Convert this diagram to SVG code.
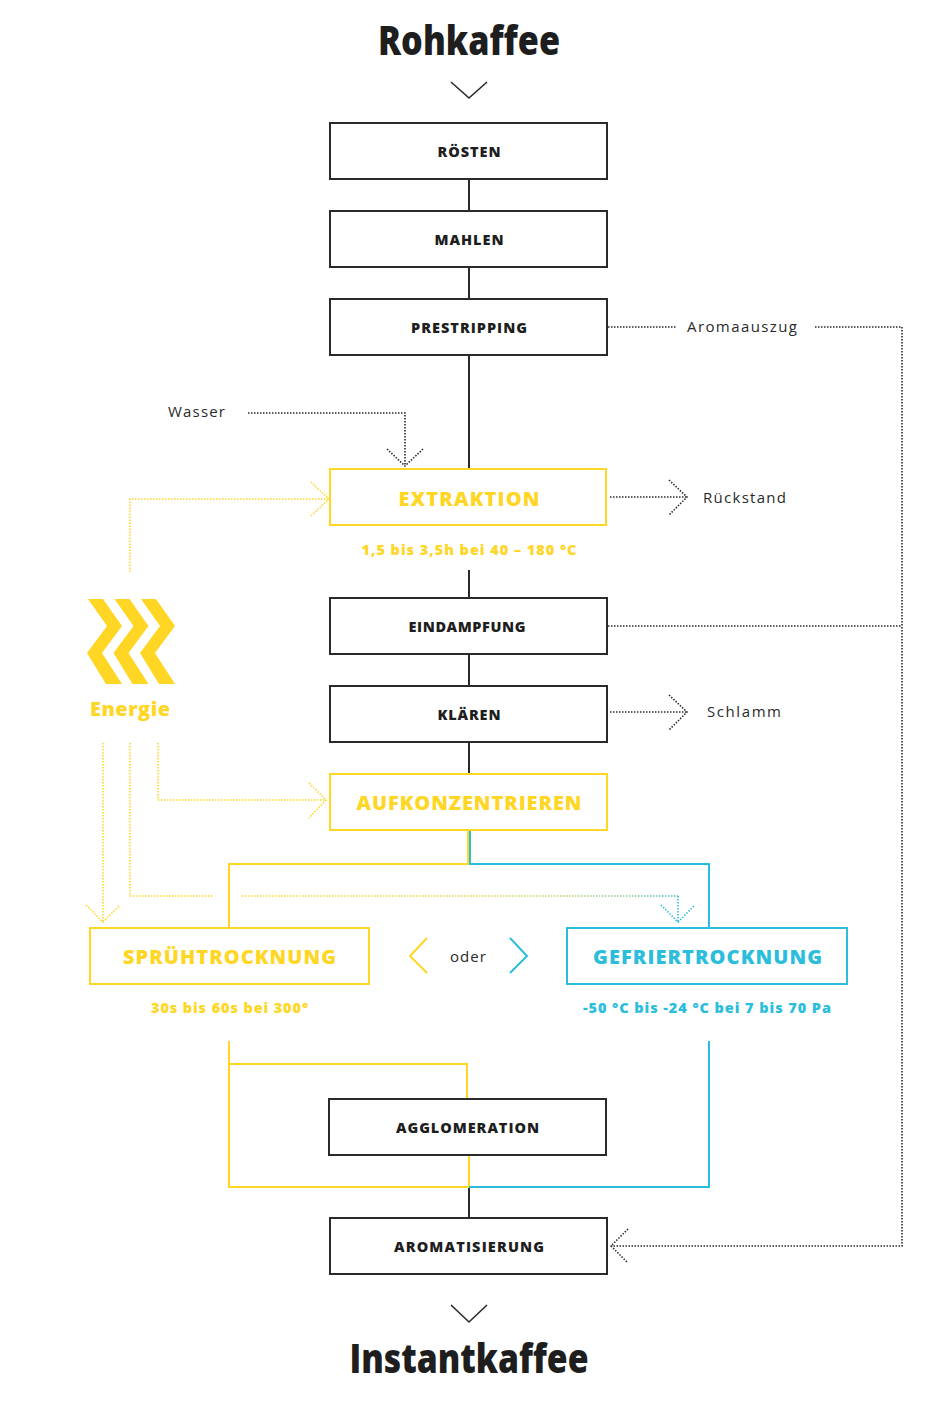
<svg xmlns="http://www.w3.org/2000/svg" width="940" height="1410" viewBox="0 0 940 1410">
<defs>
<style>
.bg{fill:#fff}
.box{fill:#fff;stroke:#2a2a2a;stroke-width:2}
.boxy{fill:#fff;stroke:#FFD624;stroke-width:2}
.boxb{fill:#fff;stroke:#2BBEDC;stroke-width:2}
.lbl{font-family:"Open Sans","Noto Sans",sans-serif;font-weight:800;font-size:14.5px;fill:#1e1e1e;text-anchor:middle}
.lbly{font-family:"Open Sans","Noto Sans",sans-serif;font-weight:800;font-size:20px;fill:#FFD624;text-anchor:middle}
.lblb{font-family:"Open Sans","Noto Sans",sans-serif;font-weight:800;font-size:20px;fill:#2BBEDC;text-anchor:middle}
.suby{font-family:"Open Sans","Noto Sans",sans-serif;font-weight:800;font-size:14.5px;fill:#FFD624;text-anchor:middle}
.subb{font-family:"Open Sans","Noto Sans",sans-serif;font-weight:800;font-size:14.5px;fill:#2BBEDC;text-anchor:middle}
.side{font-family:"Open Sans","Noto Sans",sans-serif;font-weight:400;font-size:15px;fill:#2a2a2a}
.title{font-family:"Open Sans","Noto Sans",sans-serif;font-weight:800;font-size:40px;fill:#1e1e1e;text-anchor:middle}
.solid{fill:none;stroke:#2a2a2a;stroke-width:2}
.soly{fill:none;stroke:#FFD624;stroke-width:2}
.solb{fill:none;stroke:#2BBEDC;stroke-width:2}
.dot{fill:none;stroke:#2a2a2a;stroke-width:1.6;stroke-dasharray:1.5 1.5}
.doty{fill:none;stroke:#FFD624;stroke-width:1.6;stroke-dasharray:1.5 1.5}
.dotb{fill:none;stroke:#2BBEDC;stroke-width:1.6;stroke-dasharray:1.5 1.5}
.chev{fill:none;stroke:#2a2a2a;stroke-width:1.6}
</style>
<linearGradient id="gy2b" gradientUnits="userSpaceOnUse" x1="242" y1="0" x2="690" y2="0">
<stop offset="0" stop-color="#FFD624"/>
<stop offset="0.6" stop-color="#D8D84A"/>
<stop offset="0.85" stop-color="#8CCB8A"/>
<stop offset="1" stop-color="#2BBEDC"/>
</linearGradient>
</defs>
<rect class="bg" x="0" y="0" width="940" height="1410"/>

<g id="connectors">
<path class="solid" d="M469 179V211M469 267V299M469 355V469M469 570V598M469 654V686M469 742V774M469 1187V1218"/>
<path class="soly" d="M468 830V864H229V928"/>
<path class="solb" d="M470 830V864H709V928"/>
<path class="soly" d="M229 1041V1187H469V1155M229 1064H467V1099"/>
<path class="solb" d="M709 1041V1187H469"/>
<path class="chev" d="M451 82L469 98L487 82"/>
<path class="chev" d="M451 1305L469 1322L487 1305"/>
<path class="dot" d="M608 327H676"/>
<path class="dot" d="M815 327H902V1246H611"/>
<path class="dot" d="M628 1229L611 1246L628 1263"/>
<path class="dot" d="M608 626H902"/>
<path class="dot" d="M610 497H687"/>
<path class="dot" d="M669 480L687 497L669 515"/>
<path class="dot" d="M610 712H687"/>
<path class="dot" d="M669 695L687 712L669 730"/>
<path class="dot" d="M248 413H405V466"/>
<path class="dot" d="M387 449L405 466L423 449"/>
<path class="doty" d="M130 572V499H329"/>
<path class="doty" d="M311 482L329 499L311 516"/>
<path class="doty" d="M158 743V800H326"/>
<path class="doty" d="M309 783L326 800L309 818"/>
<path class="doty" d="M103 743V922"/>
<path class="doty" d="M86 905L103 922L120 905"/>
<path class="doty" d="M130 743V896H214"/>
<path style="fill:none;stroke:url(#gy2b);stroke-width:1.6;stroke-dasharray:1.5 1.5" d="M242 896H678"/>
<path class="dotb" d="M678 896V922"/>
<path class="dotb" d="M661 905L678 922L695 905"/>
<path fill="none" stroke="#FFD624" stroke-width="2" d="M427 938L410 956L427 973"/>
<path fill="none" stroke="#2BBEDC" stroke-width="2" d="M510 938L527 956L510 973"/>
</g>

<g id="title-top"><text class="title" x="469" y="55" textLength="182" lengthAdjust="spacingAndGlyphs">Rohkaffee</text></g>
<g id="title-bottom"><text class="title" x="469" y="1373" textLength="239" lengthAdjust="spacingAndGlyphs">Instantkaffee</text></g>

<g id="roesten"><rect class="box" x="330" y="123" width="277" height="56"/><text class="lbl" x="469" y="157" textLength="63">RÖSTEN</text></g>
<g id="mahlen"><rect class="box" x="330" y="211" width="277" height="56"/><text class="lbl" x="469" y="245" textLength="69">MAHLEN</text></g>
<g id="prestripping"><rect class="box" x="330" y="299" width="277" height="56"/><text class="lbl" x="469" y="333" textLength="116">PRESTRIPPING</text></g>
<g id="extraktion"><rect class="boxy" x="330" y="469" width="276" height="56"/><text class="lbly" x="469" y="506" textLength="141">EXTRAKTION</text>
<text class="suby" x="469" y="555" textLength="215">1,5 bis 3,5h bei 40 – 180 °C</text></g>
<g id="eindampfung"><rect class="box" x="330" y="598" width="277" height="56"/><text class="lbl" x="467" y="632" textLength="117">EINDAMPFUNG</text></g>
<g id="klaeren"><rect class="box" x="330" y="686" width="277" height="56"/><text class="lbl" x="469" y="720" textLength="63">KLÄREN</text></g>
<g id="aufkonzentrieren"><rect class="boxy" x="330" y="774" width="277" height="56"/><text class="lbly" x="469" y="810" textLength="225">AUFKONZENTRIEREN</text></g>
<g id="spruehtrocknung"><rect class="boxy" x="90" y="928" width="279" height="56"/><text class="lbly" x="229.5" y="964" textLength="213">SPRÜHTROCKNUNG</text>
<text class="suby" x="229.5" y="1013" textLength="157">30s bis 60s bei 300°</text></g>
<g id="gefriertrocknung"><rect class="boxb" x="567" y="928" width="280" height="56"/><text class="lblb" x="707.5" y="964" textLength="229">GEFRIERTROCKNUNG</text>
<text class="subb" x="707" y="1013" textLength="248">-50 °C bis -24 °C bei 7 bis 70 Pa</text></g>
<g id="agglomeration"><rect class="box" x="329" y="1099" width="277" height="56"/><text class="lbl" x="467.5" y="1133" textLength="143">AGGLOMERATION</text></g>
<g id="aromatisierung"><rect class="box" x="330" y="1218" width="277" height="56"/><text class="lbl" x="469" y="1252" textLength="150">AROMATISIERUNG</text></g>

<g id="energie">
<path fill="#FFD624" d="M88 599H103L122 626L102 653L122 684H106L87 653L107 626Z"/>
<path fill="#FFD624" d="M114.5 599H129.5L148.5 626L128.5 653L148.5 684H132.5L113.5 653L133.5 626Z"/>
<path fill="#FFD624" d="M141 599H156L175 626L155 653L175 684H159L140 653L160 626Z"/>
<text class="suby" style="font-size:20px" x="130" y="716" textLength="80">Energie</text>
</g>

<g id="labels">
<text class="side" x="168" y="417" textLength="57">Wasser</text>
<text class="side" x="687" y="332" textLength="110">Aromaauszug</text>
<text class="side" x="703" y="503" textLength="83">Rückstand</text>
<text class="side" x="707" y="717" textLength="74">Schlamm</text>
<text class="side" x="450" y="962" textLength="36">oder</text>
</g>
</svg>
